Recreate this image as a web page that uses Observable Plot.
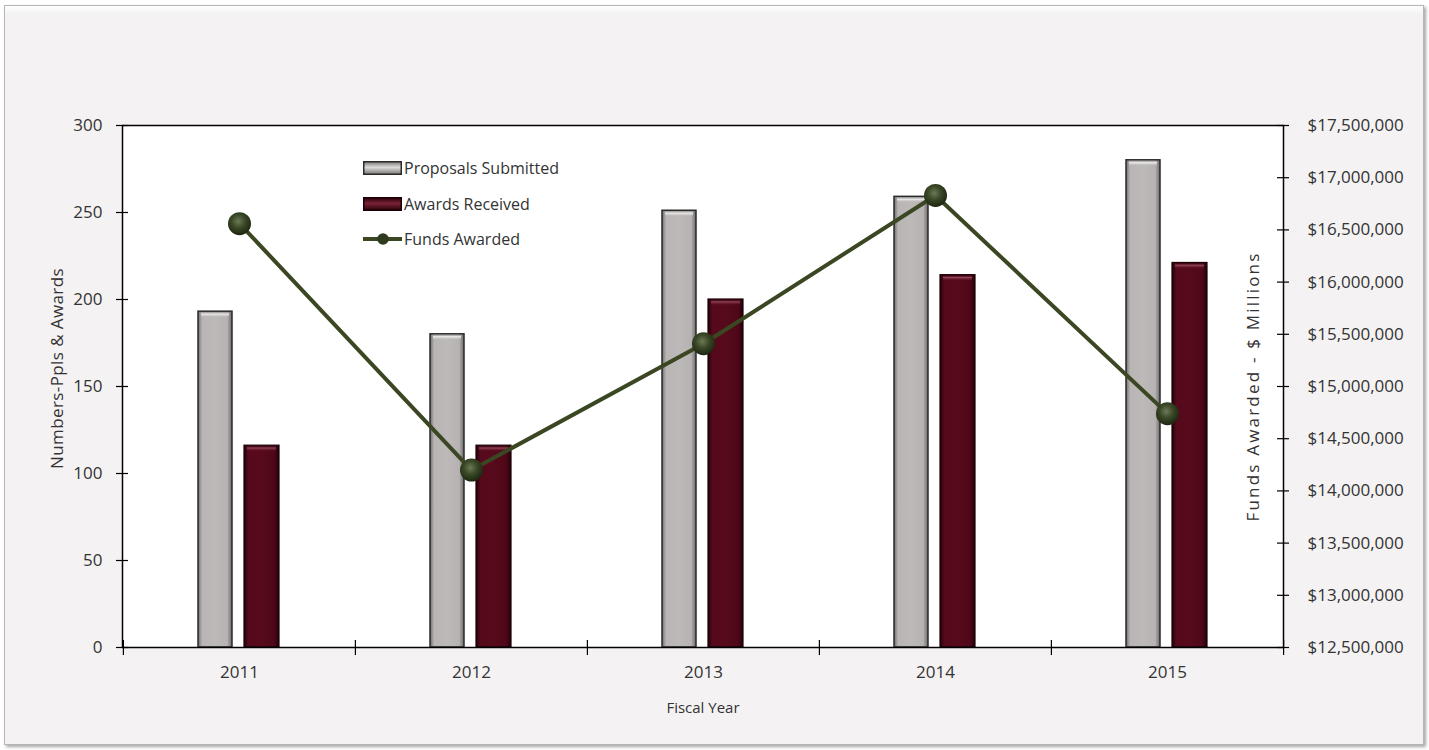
<!DOCTYPE html>
<html><head><meta charset="utf-8">
<script src="https://cdn.jsdelivr.net/npm/d3@7"></script>
<script src="https://cdn.jsdelivr.net/npm/@observablehq/plot@0.6"></script>
<style>
html,body{margin:0;padding:0;overflow:hidden;background:#ffffff;}
#wrap{position:relative;width:1429px;height:750px;font-family:"Open Sans","Noto Sans",sans-serif;color:#333;}
#bg{position:absolute;left:4px;top:5px;width:1418px;height:738px;background:#f4f2f3;border:1px solid #b5b5b5;box-shadow:inset 0 12px 6px -8px #ffffff, 2px 2px 3px rgba(0,0,0,0.35);}
#chart{position:absolute;left:0;top:0;}
.leg{position:absolute;left:363px;font-size:16px;display:flex;align-items:center;height:20px;}
.leg svg{display:block;margin-right:2px;}
</style>
</head><body>
<div id="wrap"><div id="bg"></div><div id="chart"></div>
<div class="leg" style="top:158px"><svg width="39" height="14"><rect x="0.75" y="0.75" width="37.5" height="12.5" fill="url(#lgGray)" stroke="#2b2b2b" stroke-width="1.5"/><defs><linearGradient id="lgGray" x1="0" y1="0" x2="0" y2="1"><stop offset="0" stop-color="#7b7878"/><stop offset="0.45" stop-color="#dedbdb"/><stop offset="1" stop-color="#7b7878"/></linearGradient></defs></svg>Proposals Submitted</div>
<div class="leg" style="top:194px"><svg width="39" height="14"><rect x="0.75" y="0.75" width="37.5" height="12.5" fill="url(#lgMar)" stroke="#1a0006" stroke-width="1.5"/><defs><linearGradient id="lgMar" x1="0" y1="0" x2="0" y2="1"><stop offset="0" stop-color="#2a0008"/><stop offset="0.45" stop-color="#7a2236"/><stop offset="1" stop-color="#2a0008"/></linearGradient></defs></svg>Awards Received</div>
<div class="leg" style="top:229px"><svg width="39" height="14"><line x1="0" y1="7" x2="39" y2="7" stroke="#3a4722" stroke-width="4"/><circle cx="20" cy="7" r="5.8" fill="#2f3b1e"/></svg>Funds Awarded</div>
</div>
<script>
const years = ["2011","2012","2013","2014","2015"];
const proposals = [193, 180, 251, 259, 280];
const awards = [116, 116, 200, 214, 221];
const funds = [16560000, 14200000, 15410000, 16830000, 14740000];
const leftTicks = [0, 50, 100, 150, 200, 250, 300];
const rightTicks = [12500000, 13000000, 13500000, 14000000, 14500000, 15000000, 15500000, 16000000, 16500000, 17000000, 17500000];
const fundMin = 12500000, fundMax = 17500000;

const W = 1429, H = 750, mL = 122, mR = 146, mT = 125, mB = 103;
const fw = W - mL - mR, fh = H - mT - mB, bw = fw / years.length;
const toY = f => (f - fundMin) / (fundMax - fundMin) * 300;
const fromY = v => fundMin + v / 300 * (fundMax - fundMin);
const hl = 3.6; // bevel highlight depth in count units

const propData = years.map((y, i) => ({year: y, v: proposals[i]}));
const awData = years.map((y, i) => ({year: y, v: awards[i]}));
const fundData = years.map((y, i) => ({year: y, f: funds[i]}));

const chart = Plot.plot({
  width: W, height: H,
  marginLeft: mL, marginRight: mR, marginTop: mT, marginBottom: mB,
  style: {fontFamily: '"Open Sans","Noto Sans",sans-serif', fontSize: "16px", color: "#333", background: "transparent", overflow: "visible"},
  x: {type: "band", domain: years, padding: 0, axis: null},
  y: {domain: [0, 300], axis: null},
  marks: [
    Plot.frame({fill: "white", stroke: "none"}),
    Plot.barY(propData, {x: "year", y: "v", fill: "url(#gGray)", stroke: "#2b2b2b", strokeWidth: 1.5, insetLeft: 75, insetRight: 123}),
    Plot.barY(propData, {x: "year", y1: d => d.v - hl, y2: d => d.v, fill: "url(#hGray)", insetLeft: 78, insetRight: 126, insetTop: 1}),
    Plot.barY(awData, {x: "year", y: "v", fill: "url(#gMar)", stroke: "#1a0006", strokeWidth: 1.2, insetLeft: 121, insetRight: 76}),
    Plot.barY(awData, {x: "year", y1: d => d.v - hl, y2: d => d.v, fill: "url(#hMar)", insetLeft: 124, insetRight: 79, insetTop: 1}),
    Plot.line(fundData, {x: "year", y: d => toY(d.f), stroke: "#3a4722", strokeWidth: 4}),
    Plot.dot(fundData, {x: "year", y: d => toY(d.f), r: 11.5, fill: "url(#gDot)", stroke: "none"}),
    Plot.frame({stroke: "#000", strokeWidth: 1.5, fill: "none"}),
    Plot.tickY(leftTicks, {y: d => d, insetLeft: -6, insetRight: fw - 6, stroke: "#000", strokeWidth: 1.2}),
    Plot.tickY(rightTicks.map(toY), {y: d => d, insetLeft: fw - 6, insetRight: -6, stroke: "#000", strokeWidth: 1.2}),
    Plot.tickX(years, {x: d => d, dx: -bw / 2, insetTop: fh - 7, insetBottom: -8, stroke: "#000", strokeWidth: 1.2}),
    Plot.tickX([years[years.length - 1]], {x: d => d, dx: bw / 2, insetTop: fh - 7, insetBottom: -8, stroke: "#000", strokeWidth: 1.2}),
    Plot.axisY({ticks: leftTicks, anchor: "left", label: null, tickSize: 0, tickPadding: 20, tickFormat: d => String(d), fontSize: 17, fill: "#333"}),
    Plot.axisY({ticks: rightTicks.map(toY), anchor: "right", label: null, tickSize: 0, tickPadding: 24, tickFormat: v => "$" + d3.format(",")(Math.round(fromY(v))), fontSize: 17, fill: "#333"}),
    Plot.axisX({label: null, tickSize: 0, tickPadding: 18, fontSize: 17, fill: "#333"}),
    Plot.text(["Numbers-Ppls & Awards"], {frameAnchor: "left", textAnchor: "middle", dx: -65, dy: -18, rotate: -90, fontSize: 17, fill: "#333", className: "ttlL"}),
    Plot.text(["Funds Awarded - $ Millions"], {frameAnchor: "right", textAnchor: "middle", dx: -30, rotate: -90, fontSize: 17, fill: "#333", className: "ttlR"}),
    Plot.text(["Fiscal Year"], {frameAnchor: "bottom", textAnchor: "middle", dy: 65, fontSize: 15, fill: "#333"})
  ]
});

const ns = "http://www.w3.org/2000/svg";
const defs = document.createElementNS(ns, "defs");
defs.innerHTML = `
<linearGradient id="gGray" x1="0" y1="0" x2="1" y2="0">
  <stop offset="0" stop-color="#6f6c6c"/><stop offset="0.12" stop-color="#b9b5b5"/>
  <stop offset="0.5" stop-color="#bdb9b9"/><stop offset="0.86" stop-color="#b6b2b2"/>
  <stop offset="1" stop-color="#6a6767"/></linearGradient>
<linearGradient id="gMar" x1="0" y1="0" x2="1" y2="0">
  <stop offset="0" stop-color="#24000a"/><stop offset="0.12" stop-color="#55091b"/>
  <stop offset="0.5" stop-color="#560a1c"/><stop offset="0.86" stop-color="#4f0818"/>
  <stop offset="1" stop-color="#22000a"/></linearGradient>
<linearGradient id="hGray" x1="0" y1="0" x2="0" y2="1">
  <stop offset="0" stop-color="#8a8686" stop-opacity="0.6"/><stop offset="0.35" stop-color="#f2f0f0" stop-opacity="0.95"/>
  <stop offset="1" stop-color="#bdb9b9" stop-opacity="0"/></linearGradient>
<linearGradient id="hMar" x1="0" y1="0" x2="0" y2="1">
  <stop offset="0" stop-color="#2a0008" stop-opacity="0.6"/><stop offset="0.35" stop-color="#9a4a5c" stop-opacity="0.9"/>
  <stop offset="1" stop-color="#560a1c" stop-opacity="0"/></linearGradient>
<radialGradient id="gDot" cx="0.45" cy="0.4" r="0.6">
  <stop offset="0" stop-color="#6b7a55"/><stop offset="0.5" stop-color="#3a4727"/>
  <stop offset="1" stop-color="#1c2610"/></radialGradient>`;
chart.insertBefore(defs, chart.firstChild);
chart.querySelectorAll(".ttlL text").forEach(t => t.style.letterSpacing = "0.4px");
chart.querySelectorAll(".ttlR text").forEach(t => t.style.letterSpacing = "2.2px");
document.getElementById("chart").appendChild(chart);
</script>
</body></html>
